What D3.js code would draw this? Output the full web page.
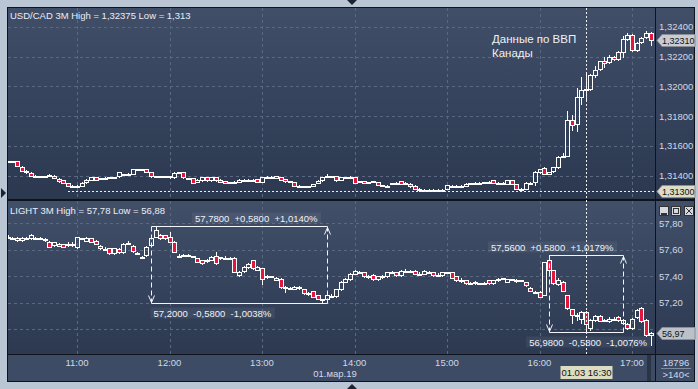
<!DOCTYPE html>
<html>
<head>
<meta charset="utf-8">
<script src="https://cdn.jsdelivr.net/npm/d3@7"></script>
<style>
body { margin: 0; background: #bac6d4; }
svg { display: block; font-family: "Liberation Sans", Arial, sans-serif; }
</style>
</head>
<body>
<script>
// 3-minute bars, first bar 10:15
const candleStart = "10:15";
const candleMinutes = 3;
const hourTicks = ["11:00", "12:00", "13:00", "14:00", "15:00", "16:00", "17:00"];
const usdTicks = [1.314, 1.316, 1.318, 1.320, 1.322, 1.324];
const lightTicks = [57.0, 57.2, 57.4, 57.6, 57.8];

// [open, high, low, close]
const usdCandles = [
  [1.31496,1.31500,1.31490,1.31496],[1.31496,1.31500,1.31490,1.31496],[1.31496,1.31500,1.31465,1.31467],
  [1.31460,1.31465,1.31430,1.31433],[1.31423,1.31436,1.31420,1.31433],[1.31420,1.31422,1.31398,1.31400],
  [1.31400,1.31405,1.31395,1.31400],[1.31396,1.31400,1.31392,1.31396],[1.31396,1.31400,1.31392,1.31396],
  [1.31400,1.31412,1.31395,1.31402],[1.31400,1.31402,1.31383,1.31385],[1.31380,1.31382,1.31360,1.31362],
  [1.31369,1.31371,1.31349,1.31351],[1.31351,1.31353,1.31331,1.31333],[1.31333,1.31338,1.31325,1.31333],
  [1.31331,1.31336,1.31326,1.31331],[1.31331,1.31355,1.31329,1.31353],[1.31355,1.31380,1.31353,1.31373],
  [1.31374,1.31392,1.31372,1.31389],[1.31389,1.31392,1.31372,1.31374],[1.31378,1.31386,1.31376,1.31383],
  [1.31383,1.31388,1.31378,1.31383],[1.31389,1.31392,1.31387,1.31389],[1.31389,1.31392,1.31387,1.31389],
  [1.31396,1.31428,1.31394,1.31422],[1.31412,1.31414,1.31408,1.31410],[1.31410,1.31416,1.31404,1.31410],
  [1.31413,1.31447,1.31411,1.31445],[1.31445,1.31447,1.31443,1.31445],[1.31445,1.31447,1.31443,1.31445],
  [1.31445,1.31447,1.31423,1.31425],[1.31422,1.31424,1.31394,1.31396],[1.31396,1.31398,1.31394,1.31396],
  [1.31396,1.31398,1.31394,1.31396],[1.31396,1.31398,1.31394,1.31396],[1.31398,1.31400,1.31386,1.31388],
  [1.31389,1.31425,1.31387,1.31418],[1.31422,1.31424,1.31420,1.31422],[1.31422,1.31424,1.31387,1.31389],
  [1.31383,1.31385,1.31381,1.31383],[1.31383,1.31385,1.31352,1.31354],[1.31358,1.31375,1.31356,1.31373],
  [1.31369,1.31391,1.31367,1.31389],[1.31389,1.31391,1.31367,1.31369],[1.31369,1.31391,1.31367,1.31389],
  [1.31389,1.31391,1.31367,1.31369],[1.31373,1.31375,1.31356,1.31358],[1.31362,1.31364,1.31349,1.31351],
  [1.31355,1.31357,1.31353,1.31355],[1.31355,1.31362,1.31350,1.31355],[1.31358,1.31375,1.31356,1.31373],
  [1.31373,1.31375,1.31371,1.31373],[1.31373,1.31375,1.31371,1.31373],[1.31373,1.31375,1.31371,1.31373],
  [1.31378,1.31380,1.31356,1.31358],[1.31358,1.31394,1.31356,1.31392],[1.31394,1.31396,1.31392,1.31394],
  [1.31394,1.31396,1.31392,1.31394],[1.31396,1.31398,1.31383,1.31385],[1.31389,1.31391,1.31372,1.31374],
  [1.31378,1.31380,1.31360,1.31362],[1.31362,1.31364,1.31360,1.31362],[1.31358,1.31360,1.31331,1.31333],
  [1.31333,1.31335,1.31331,1.31333],[1.31329,1.31331,1.31327,1.31329],[1.31329,1.31334,1.31324,1.31329],
  [1.31333,1.31347,1.31331,1.31345],[1.31350,1.31369,1.31348,1.31367],[1.31369,1.31391,1.31367,1.31389],
  [1.31396,1.31412,1.31390,1.31396],[1.31396,1.31398,1.31394,1.31396],[1.31396,1.31398,1.31367,1.31369],
  [1.31374,1.31391,1.31372,1.31389],[1.31389,1.31391,1.31387,1.31389],[1.31389,1.31395,1.31384,1.31389],
  [1.31389,1.31391,1.31349,1.31351],[1.31362,1.31364,1.31360,1.31362],[1.31362,1.31364,1.31349,1.31351],
  [1.31355,1.31357,1.31353,1.31355],[1.31360,1.31366,1.31358,1.31364],[1.31358,1.31360,1.31338,1.31340],
  [1.31334,1.31337,1.31331,1.31336],[1.31333,1.31338,1.31328,1.31333],[1.31345,1.31350,1.31343,1.31349],
  [1.31353,1.31355,1.31351,1.31353],[1.31362,1.31364,1.31345,1.31347],[1.31353,1.31358,1.31348,1.31353],
  [1.31347,1.31349,1.31327,1.31329],[1.31333,1.31335,1.31311,1.31313],[1.31313,1.31315,1.31300,1.31302],
  [1.31307,1.31309,1.31305,1.31307],[1.31307,1.31309,1.31305,1.31307],[1.31307,1.31309,1.31305,1.31307],
  [1.31307,1.31309,1.31305,1.31307],[1.31307,1.31309,1.31305,1.31307],[1.31313,1.31338,1.31311,1.31336],
  [1.31334,1.31336,1.31332,1.31334],[1.31334,1.31336,1.31332,1.31334],[1.31334,1.31336,1.31332,1.31334],
  [1.31334,1.31349,1.31332,1.31347],[1.31351,1.31353,1.31349,1.31351],[1.31353,1.31358,1.31348,1.31353],
  [1.31353,1.31355,1.31351,1.31353],[1.31356,1.31358,1.31354,1.31356],[1.31356,1.31362,1.31350,1.31356],
  [1.31369,1.31371,1.31351,1.31353],[1.31353,1.31355,1.31351,1.31353],[1.31353,1.31355,1.31351,1.31353],
  [1.31347,1.31371,1.31345,1.31369],[1.31369,1.31371,1.31345,1.31347],[1.31342,1.31344,1.31311,1.31313],
  [1.31313,1.31315,1.31311,1.31313],[1.31313,1.31355,1.31311,1.31353],[1.31353,1.31355,1.31351,1.31353],
  [1.31360,1.31430,1.31338,1.31425],[1.31422,1.31448,1.31420,1.31445],[1.31452,1.31458,1.31410,1.31412],
  [1.31412,1.31427,1.31410,1.31425],[1.31429,1.31458,1.31427,1.31456],[1.31456,1.31530,1.31454,1.31526],
  [1.31530,1.31550,1.31525,1.31532],[1.31534,1.31834,1.31530,1.31776],[1.31776,1.31810,1.31710,1.31743],
  [1.31750,1.31990,1.31700,1.31928],[1.31928,1.32060,1.31880,1.31977],[1.31977,1.32080,1.31900,1.31983],
  [1.31980,1.32085,1.31975,1.32078],[1.32078,1.32140,1.32060,1.32112],[1.32116,1.32172,1.32110,1.32167],
  [1.32167,1.32200,1.32130,1.32156],[1.32161,1.32210,1.32155,1.32194],[1.32194,1.32205,1.32180,1.32185],
  [1.32183,1.32240,1.32178,1.32234],[1.32234,1.32335,1.32200,1.32317],[1.32317,1.32360,1.32310,1.32346],
  [1.32346,1.32350,1.32236,1.32241],[1.32241,1.32300,1.32236,1.32291],[1.32295,1.32330,1.32290,1.32324],
  [1.32331,1.32375,1.32325,1.32358],[1.32358,1.32362,1.32275,1.32310]
];

const lightCandles = [
  [57.70,57.71,57.69,57.70],[57.69,57.70,57.68,57.69],[57.691,57.70,57.665,57.671],[57.671,57.695,57.665,57.691],
  [57.69,57.70,57.68,57.69],[57.691,57.72,57.685,57.712],[57.69,57.70,57.685,57.69],[57.69,57.70,57.685,57.69],
  [57.68,57.69,57.665,57.68],[57.661,57.665,57.62,57.623],[57.636,57.66,57.63,57.656],[57.646,57.65,57.625,57.63],
  [57.64,57.645,57.62,57.623],[57.64,57.655,57.63,57.64],[57.645,57.66,57.63,57.645],[57.623,57.70,57.615,57.694],
  [57.686,57.69,57.68,57.686],[57.668,57.695,57.665,57.69],[57.686,57.69,57.655,57.661],[57.67,57.675,57.64,57.646],
  [57.63,57.635,57.605,57.61],[57.606,57.62,57.60,57.606],[57.611,57.615,57.57,57.573],[57.573,57.615,57.57,57.611],
  [57.606,57.61,57.575,57.58],[57.58,57.65,57.575,57.642],[57.65,57.665,57.64,57.65],[57.63,57.635,57.585,57.59],
  [57.572,57.58,57.565,57.572],[57.547,57.555,57.54,57.547],[57.56,57.625,57.555,57.62],[57.636,57.695,57.63,57.69],
  [57.70,57.78,57.695,57.749],[57.712,57.72,57.68,57.686],[57.71,57.715,57.68,57.686],[57.70,57.735,57.655,57.66],
  [57.661,57.665,57.58,57.585],[57.555,57.565,57.545,57.555],[57.56,57.565,57.555,57.56],[57.555,57.565,57.55,57.562],
  [57.55,57.555,57.545,57.55],[57.536,57.54,57.505,57.51],[57.52,57.525,57.495,57.50],[57.52,57.53,57.51,57.52],
  [57.525,57.55,57.52,57.545],[57.55,57.58,57.495,57.50],[57.535,57.545,57.53,57.542],[57.54,57.55,57.53,57.54],
  [57.54,57.545,57.535,57.54],[57.54,57.545,57.43,57.434],[57.41,57.44,57.405,57.434],[57.44,57.475,57.435,57.47],
  [57.47,57.50,57.465,57.495],[57.52,57.525,57.455,57.46],[57.45,57.48,57.445,57.47],[57.46,57.465,57.34,57.38],
  [57.40,57.41,57.39,57.40],[57.40,57.405,57.395,57.40],[57.39,57.395,57.37,57.375],[57.38,57.385,57.31,57.315],
  [57.315,57.325,57.28,57.315],[57.31,57.315,57.305,57.31],[57.305,57.325,57.30,57.32],[57.315,57.325,57.305,57.315],
  [57.30,57.305,57.265,57.27],[57.27,57.28,57.26,57.27],[57.285,57.29,57.24,57.245],[57.255,57.26,57.225,57.23],
  [57.225,57.23,57.20,57.225],[57.226,57.26,57.22,57.255],[57.25,57.265,57.24,57.25],[57.25,57.305,57.245,57.30],
  [57.30,57.365,57.295,57.36],[57.36,57.39,57.355,57.38],[57.38,57.425,57.375,57.42],[57.42,57.45,57.415,57.44],
  [57.43,57.44,57.425,57.435],[57.43,57.435,57.395,57.40],[57.40,57.41,57.39,57.40],[57.41,57.415,57.375,57.38],
  [57.38,57.405,57.375,57.40],[57.40,57.41,57.39,57.40],[57.40,57.435,57.395,57.43],[57.43,57.44,57.425,57.43],
  [57.43,57.435,57.405,57.41],[57.41,57.445,57.405,57.44],[57.44,57.455,57.43,57.44],[57.44,57.445,57.435,57.44],
  [57.44,57.445,57.415,57.42],[57.42,57.435,57.41,57.42],[57.42,57.445,57.415,57.44],[57.43,57.44,57.425,57.43],
  [57.43,57.435,57.405,57.41],[57.41,57.425,57.40,57.41],[57.41,57.435,57.405,57.43],[57.43,57.435,57.425,57.43],
  [57.43,57.435,57.385,57.39],[57.40,57.405,57.365,57.37],[57.37,57.385,57.36,57.37],[57.37,57.375,57.345,57.35],
  [57.35,57.355,57.345,57.35],[57.35,57.365,57.345,57.36],[57.347,57.352,57.342,57.347],[57.35,57.36,57.34,57.35],
  [57.37,57.375,57.345,57.347],[57.35,57.375,57.345,57.37],[57.376,57.385,57.365,57.376],[57.383,57.39,57.38,57.383],
  [57.36,57.38,57.355,57.376],[57.376,57.38,57.37,57.376],[57.37,57.38,57.36,57.37],[57.37,57.375,57.365,57.37],
  [57.355,57.36,57.325,57.33],[57.31,57.315,57.285,57.288],[57.28,57.29,57.275,57.28],[57.28,57.285,57.24,57.245],
  [57.258,57.51,57.255,57.505],[57.523,57.56,57.44,57.447],[57.447,57.45,57.34,57.347],[57.34,57.385,57.335,57.37],
  [57.36,57.365,57.285,57.29],[57.258,57.26,57.15,57.157],[57.15,57.155,57.044,57.107],[57.107,57.12,57.07,57.107],
  [57.08,57.135,57.05,57.13],[57.13,57.135,56.98,57.04],[57.006,57.075,56.99,57.07],[57.07,57.105,57.065,57.10],
  [57.10,57.105,57.06,57.065],[57.065,57.08,57.06,57.07],[57.06,57.09,57.055,57.08],[57.08,57.095,57.07,57.08],
  [57.09,57.10,57.065,57.07],[57.045,57.075,57.04,57.07],[57.04,57.045,57.00,57.006],[57.006,57.085,57.00,57.08],
  [57.09,57.15,57.085,57.145],[57.16,57.17,57.055,57.06],[57.07,57.075,56.95,56.955],[56.955,56.98,56.88,56.97]
];

// measuring tool on the lower chart: bar index from/to, price high/low
const measureFrom = [31, 117];
const measureTo = [69, 133];
const measureHigh = [57.78, 57.56];
const measureLow = [57.20, 56.98];
const measureUpText = ["57,7800  +0,5800  +1,0140%", "57,5600  +0,5800  +1,0179%"];
const measureDownText = ["57,2000  -0,5800  -1,0038%", "56,9800  -0,5800  -1,0076%"];

const cursorTime = "16:30";
const cursorUsd = 1.313;
const usdLast = 1.3231;
const lightLast = 56.97;

const day = s => { const [h, m] = s.split(":").map(Number); return new Date(2019, 2, 1, h, m); };
const barTime = i => new Date(+day(candleStart) + i * candleMinutes * 60000);
const comma = (f) => v => d3.format(f)(v).replace(".", ",");

const W = 698, H = 389;
const L = 8, R = 655, RC = 694;
const topA = 8, topB = 199, botA = 201, botB = 354, axB = 381;

const x = d3.scaleTime().domain([day("11:00"), day("17:00")]).range([77, 632]);
const yTop = d3.scaleLinear().domain([1.313, 1.324]).range([190.6, 26.8]);
const yBot = d3.scaleLinear().domain([57.2, 57.8]).range([302.7, 223.3]);

const svg = d3.select("body").append("svg").attr("width", W).attr("height", H);
const defs = svg.append("defs");

function grad(id, c1, c2) {
  const g = defs.append("linearGradient").attr("id", id).attr("x1", 0).attr("y1", 0).attr("x2", 0).attr("y2", 1);
  g.append("stop").attr("offset", 0).attr("stop-color", c1);
  g.append("stop").attr("offset", 1).attr("stop-color", c2);
}
grad("gTop", "#414e68", "#2b3850");
grad("gBot", "#424f69", "#2c3951");
defs.append("clipPath").attr("id", "clipTop").append("rect").attr("x", L).attr("y", topA).attr("width", R - L).attr("height", topB - topA);
defs.append("clipPath").attr("id", "clipBot").append("rect").attr("x", L).attr("y", botA).attr("width", R - L).attr("height", botB - botA);

// frame
svg.append("rect").attr("width", W).attr("height", H).attr("fill", "#bac6d4");
svg.append("rect").attr("x", L - 1).attr("y", topA - 1).attr("width", RC - L + 2).attr("height", axB - topA + 2).attr("fill", "#0f141c");
svg.append("rect").attr("x", L).attr("y", topA).attr("width", R - L).attr("height", topB - topA).attr("fill", "url(#gTop)");
svg.append("rect").attr("x", R + 1).attr("y", topA).attr("width", RC - R - 1).attr("height", topB - topA).attr("fill", "url(#gTop)");
svg.append("rect").attr("x", L).attr("y", botA).attr("width", R - L).attr("height", botB - botA).attr("fill", "url(#gBot)");
svg.append("rect").attr("x", R + 1).attr("y", botA).attr("width", RC - R - 1).attr("height", botB - botA).attr("fill", "url(#gBot)");
svg.append("rect").attr("x", L).attr("y", botB + 1).attr("width", R - L).attr("height", axB - botB - 1).attr("fill", "#3e4b65");
svg.append("rect").attr("x", R + 1).attr("y", botB + 1).attr("width", RC - R - 1).attr("height", axB - botB - 1).attr("fill", "#3e4b65");
svg.append("rect").attr("x", 647).attr("y", botB + 1).attr("width", 4).attr("height", axB - botB - 1).attr("fill", "#2a3447");

// grid
const grid = svg.append("g").attr("stroke", "#5b6882").attr("stroke-dasharray", "3,3").attr("shape-rendering", "crispEdges");
hourTicks.forEach(s => {
  const gx = Math.round(x(day(s))) + 0.5;
  grid.append("line").attr("x1", gx).attr("x2", gx).attr("y1", topA).attr("y2", topB);
  grid.append("line").attr("x1", gx).attr("x2", gx).attr("y1", botA).attr("y2", botB);
});
usdTicks.forEach(v => {
  const gy = Math.round(yTop(v)) + 0.5;
  grid.append("line").attr("x1", L).attr("x2", R).attr("y1", gy).attr("y2", gy);
});
lightTicks.forEach(v => {
  const gy = Math.round(yBot(v)) + 0.5;
  grid.append("line").attr("x1", L).attr("x2", R).attr("y1", gy).attr("y2", gy);
});

// candles
function drawCandles(rows, y, clip) {
  const g = svg.append("g").attr("clip-path", `url(#${clip})`).attr("shape-rendering", "crispEdges");
  const c = g.selectAll("g").data(rows).join("g");
  c.each(function (d, i) {
    const [o, h, l, cl] = d;
    const cx = Math.round(x(barTime(i)));
    const yo = Math.round(y(o)), yc = Math.round(y(cl));
    const top = Math.min(yo, yc), bot = Math.max(yo, yc);
    const s = d3.select(this);
    s.append("line").attr("x1", cx + 0.5).attr("x2", cx + 0.5).attr("y1", Math.round(y(h))).attr("y2", top).attr("stroke", "#fff");
    s.append("line").attr("x1", cx + 0.5).attr("x2", cx + 0.5).attr("y1", bot + 1).attr("y2", Math.round(y(l)) + 1).attr("stroke", "#fff");
    s.append("rect").attr("x", cx - 1.5).attr("y", top + 0.5).attr("width", 4).attr("height", Math.max(bot - top, 1))
      .attr("fill", cl < o ? "#e3173d" : "none").attr("stroke", "#fff");
  });
}
drawCandles(usdCandles, yTop, "clipTop");
drawCandles(lightCandles, yBot, "clipBot");

// measure tool
const meas = svg.append("g").attr("clip-path", "url(#clipBot)");
measureFrom.forEach((f, k) => {
  const x1 = Math.round(x(barTime(f))) + 0.5, x2 = Math.round(x(barTime(measureTo[k]))) + 0.5;
  const y1 = Math.round(yBot(measureHigh[k])) + 0.5, y2 = Math.round(yBot(measureLow[k])) + 0.5;
  const col = "#f2f4f8";
  meas.append("line").attr("x1", x1).attr("x2", x2).attr("y1", y1).attr("y2", y1).attr("stroke", col);
  meas.append("line").attr("x1", x1).attr("x2", x2).attr("y1", y2).attr("y2", y2).attr("stroke", col);
  meas.append("line").attr("x1", x1).attr("x2", x1).attr("y1", y1).attr("y2", y2).attr("stroke", col).attr("stroke-dasharray", "5,3");
  meas.append("line").attr("x1", x2).attr("x2", x2).attr("y1", y1).attr("y2", y2).attr("stroke", col).attr("stroke-dasharray", "5,3");
  meas.append("path").attr("d", `M${x1 - 3},${y2 - 8}L${x1},${y2 - 1}L${x1 + 3},${y2 - 8}`).attr("stroke", col).attr("fill", "none");
  meas.append("path").attr("d", `M${x2 - 3},${y1 + 8}L${x2},${y1 + 1}L${x2 + 3},${y1 + 8}`).attr("stroke", col).attr("fill", "none");

  const up = meas.append("text").attr("x", x2 - 10).attr("y", y1 - 5).attr("text-anchor", "end")
    .attr("font-size", 9.5).attr("fill", "#eef2f7").style("white-space", "pre").text(measureUpText[k]);
  const ub = up.node().getBBox();
  meas.insert("rect", "text").attr("x", ub.x - 3).attr("y", ub.y).attr("width", ub.width + 6).attr("height", ub.height)
    .attr("fill", "#ffffff").attr("opacity", 0.06);

  const dn = meas.append("text").attr("y", y2 + 13).attr("font-size", 9.5).attr("fill", "#eef2f7")
    .style("white-space", "pre").text(measureDownText[k]);
  const dw = dn.node().getComputedTextLength();
  dn.attr("x", Math.min(x1 + 2, R - dw - 8));
  const db = dn.node().getBBox();
  meas.insert("rect", "text").attr("x", db.x - 3).attr("y", db.y).attr("width", db.width + 6).attr("height", db.height)
    .attr("fill", "#ffffff").attr("opacity", 0.06);
});

// cursor lines
const cx0 = Math.round(x(day(cursorTime))) + 0.5;
svg.append("line").attr("x1", cx0).attr("x2", cx0).attr("y1", topA).attr("y2", botB)
  .attr("stroke", "#f0f0f0").attr("stroke-dasharray", "2,2").attr("shape-rendering", "crispEdges");
const cy0 = Math.round(yTop(cursorUsd)) + 0.5;
svg.append("line").attr("x1", 68).attr("x2", R).attr("y1", cy0).attr("y2", cy0)
  .attr("stroke", "#f0f0f0").attr("stroke-dasharray", "2,2").attr("shape-rendering", "crispEdges");

// axis labels (57,00 sits under the last-price tag, as in the source)
const lab = svg.append("g").attr("font-size", 9.5).attr("fill", "#cfd9e6");
usdTicks.forEach(v => lab.append("text").attr("x", 659).attr("y", yTop(v) + 3.5).text(comma(".5f")(v)));
lightTicks.filter(v => Math.abs(yBot(v) - yBot(lightLast)) > 12)
  .forEach(v => lab.append("text").attr("x", 659).attr("y", yBot(v) + 3.5).text(comma(".2f")(v)));
hourTicks.forEach(s => lab.append("text").attr("x", x(day(s))).attr("y", 366).attr("text-anchor", "middle").text(s));
lab.append("text").attr("x", 335).attr("y", 377).attr("text-anchor", "middle").text("01.мар.19");
lab.append("text").attr("x", 676).attr("y", 366).attr("text-anchor", "middle").text("18796");
lab.append("text").attr("x", 676).attr("y", 378).attr("text-anchor", "middle").text(">140<");
svg.append("line").attr("x1", 661).attr("x2", 691).attr("y1", 368.5).attr("y2", 368.5).attr("stroke", "#7d8aa0");

// price tags
function tag(yv, text, fill) {
  const yc = Math.round(yv) + 0.5, x0 = R + 2;
  svg.append("path").attr("d", `M${x0},${yc}L${x0 + 5},${yc - 6}L${RC + 1},${yc - 6}L${RC + 1},${yc + 6}L${x0 + 5},${yc + 6}Z`)
    .attr("fill", fill).attr("stroke", "#8a8f96");
  svg.append("text").attr("x", x0 + 5).attr("y", yc + 3.5).attr("font-size", 9).attr("fill", "#111").text(text);
}
tag(yTop(usdLast), comma(".5f")(usdLast), "#c9cdd3");
tag(yTop(cursorUsd), comma(".5f")(cursorUsd), "#dcdcc8");
tag(yBot(lightLast), comma(".2f")(lightLast), "#bcc1c9");

const ct = svg.append("g");
ct.append("rect").attr("x", cx0 - 26).attr("y", 366).attr("width", 52).attr("height", 13).attr("fill", "#dcdcc2");
ct.append("text").attr("x", cx0).attr("y", 376).attr("text-anchor", "middle").attr("font-size", 9.5).attr("fill", "#111").text("01.03 16:30");

// titles
svg.append("text").attr("x", 10).attr("y", 19).attr("font-size", 9.5).attr("fill", "#e9eef5").text("USD/CAD 3M High = 1,32375 Low = 1,313");
svg.append("text").attr("x", 10).attr("y", 214).attr("font-size", 9.5).attr("fill", "#e9eef5").text("LIGHT 3M High = 57,78 Low = 56,88");
const note = svg.append("text").attr("font-size", 11.5).attr("fill", "#eef2f7");
note.append("tspan").attr("x", 492).attr("y", 43).text("Данные по ВВП");
note.append("tspan").attr("x", 492).attr("y", 57).text("Канады");

// window buttons
const btn = svg.append("g").attr("stroke", "#333").attr("shape-rendering", "crispEdges");
[659, 671, 684].forEach((bx, k) => {
  btn.append("rect").attr("x", bx + 0.5).attr("y", 206.5).attr("width", 9).attr("height", 9).attr("fill", "#d6dae0");
  if (k === 0) btn.append("line").attr("x1", bx + 2).attr("x2", bx + 8).attr("y1", 213.5).attr("y2", 213.5).attr("stroke-width", 2);
  if (k === 1) btn.append("rect").attr("x", bx + 2.5).attr("y", 208.5).attr("width", 5).attr("height", 5).attr("fill", "none");
  if (k === 2) btn.append("path").attr("d", `M${bx + 2},${208}L${bx + 8},${214}M${bx + 8},${208}L${bx + 2},${214}`).attr("shape-rendering", "auto");
});

// scroll markers
svg.append("path").attr("d", "M347,0L357,0L352,5Z").attr("fill", "#1b2333");
svg.append("path").attr("d", "M347,389L357,389L352,384Z").attr("fill", "#1b2333");
svg.append("path").attr("d", "M1,188L6,193L1,198Z").attr("fill", "#1b2333");
</script>
</body>
</html>
